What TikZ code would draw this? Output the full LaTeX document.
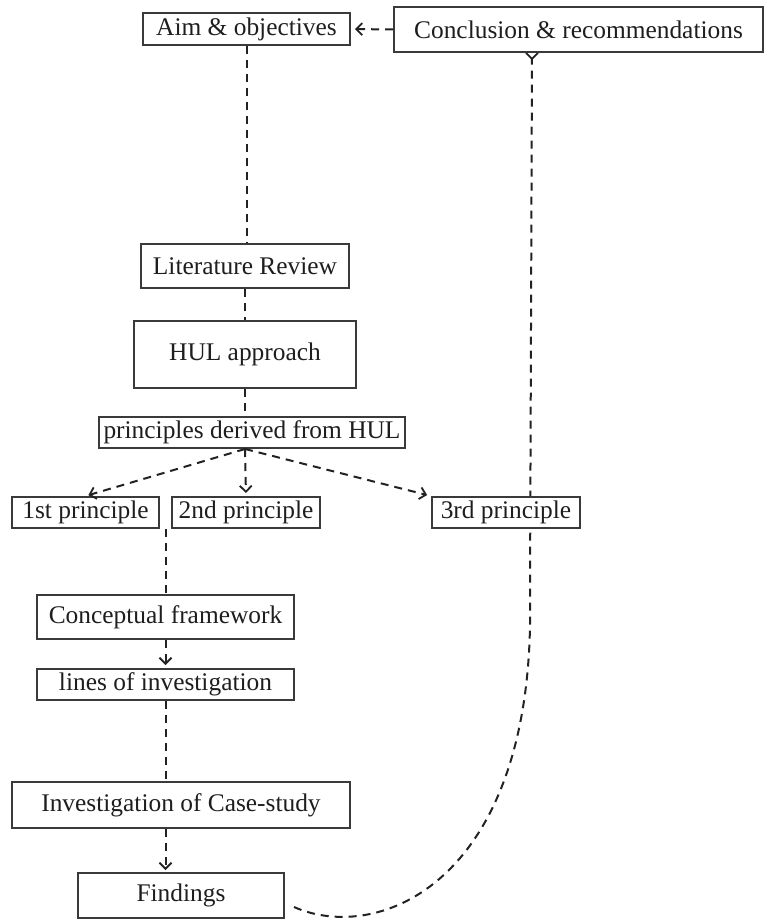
\documentclass[tikz,border=0pt]{standalone}
\usepackage{fontspec}
\setmainfont{Liberation Serif}
\usetikzlibrary{arrows.meta,calc,backgrounds}
\definecolor{boxline}{HTML}{3A3A3A}
\definecolor{conline}{HTML}{222222}
\definecolor{txt}{HTML}{1E1E1E}
\begin{document}
\begin{tikzpicture}[x=0.5pt,y=-0.5pt,
  box/.style={draw=boxline,line width=1pt,fill=white,inner sep=0pt,text=txt,
    font=\fontsize{12.7pt}{15pt}\selectfont},
  conn/.style={draw=conline,line width=1pt,dash pattern=on 4pt off 3pt},
  tip/.style={-{Straight Barb[length=3pt,width=6pt,line width=0.9pt]}},
  rtip/.style={-{Straight Barb[length=3pt,width=6pt,line width=0.9pt,reversed]}}]
\useasboundingbox (0,0) rectangle (766,920);

\node[box,minimum width=103.5pt,minimum height=16pt] (aim) at (246.5,29) {Aim \& objectives};
\node[box,minimum width=184.5pt,minimum height=22.5pt] (conc) at (578.5,29.5) {Conclusion \& recommendations};
\node[box,minimum width=104pt,minimum height=22pt] (lit) at (245,266) {Literature Review};
\node[box,minimum width=111pt,minimum height=33.5pt] (hul) at (245,354.5) {HUL approach};
\node[box,minimum width=153pt,minimum height=15.5pt] (prin) at (252,432.5) {principles derived from HUL};
\node[box,minimum width=73.5pt,minimum height=15.5pt] (p1) at (85.5,512.5) {1st principle};
\node[box,minimum width=74pt,minimum height=15.5pt] (p2) at (246,512.5) {2nd principle};
\node[box,minimum width=74pt,minimum height=15.5pt] (p3) at (506,512.5) {3rd principle};
\node[box,minimum width=128.5pt,minimum height=22pt] (cf) at (165.5,617) {Conceptual framework};
\node[box,minimum width=128.5pt,minimum height=15.5pt] (loi) at (165.5,684.5) {lines of investigation};
\node[box,minimum width=169pt,minimum height=23pt] (inv) at (181,805) {Investigation of Case-study};
\node[box,minimum width=103pt,minimum height=22.5pt] (find) at (181,895.5) {Findings};

\coordinate (pb) at (hul.south |- prin.south);
\coordinate (col) at ($(p1.south east)!0.5!(p2.south west)$);
\coordinate (fstart) at ($(find.south east)+(9,-12)$);
\coordinate (cbot) at (532,52);
\coordinate (cturn) at (530,600);

\begin{pgfonlayer}{background}
\draw[conn,rtip] (fstart) .. controls (380,945) and (535,880) .. (cturn) -- (cbot);
\end{pgfonlayer}

\draw[conn,tip,shorten >=2pt] (conc.west) -- (aim.east);
\draw[conn] (aim.south) -- (aim.south |- lit.north);
\draw[conn] (lit.south) -- (lit.south |- hul.north);
\draw[conn] (hul.south) -- (hul.south |- prin.north);
\draw[conn,tip,shorten >=1.5pt] (pb) -- (p1.north);
\draw[conn,tip,shorten >=1.5pt] (pb) -- (p2.north);
\draw[conn,tip,shorten >=2pt] (pb) -- (p3.north west);
\draw[conn] (col) -- (col |- cf.north);
\draw[conn,tip,shorten >=1.5pt] (col |- cf.south) -- (col |- loi.north);
\draw[conn] (col |- loi.south) -- (col |- inv.north);
\draw[conn,tip,shorten >=1pt] (col |- inv.south) -- (col |- find.north);
\end{tikzpicture}
\end{document}
